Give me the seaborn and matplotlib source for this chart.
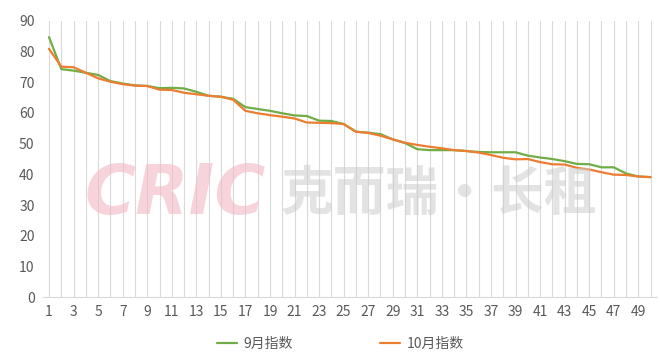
import numpy as np
import pandas as pd
import seaborn as sns
import matplotlib.pyplot as plt

# rank positions 1..50
ranks = list(range(1, 51))

sep_index = [84.7, 74.3, 73.8, 73.1, 72.4, 70.4, 69.6, 69.0, 68.8, 68.1,
             68.2, 68.0, 66.9, 65.6, 65.3, 64.6, 61.9, 61.3, 60.7, 59.9,
             59.2, 59.0, 57.5, 57.4, 56.4, 53.9, 53.6, 53.1, 51.4, 50.2,
             48.2, 47.9, 47.9, 47.9, 47.6, 47.3, 47.2, 47.2, 47.2, 46.1,
             45.5, 45.0, 44.3, 43.4, 43.3, 42.3, 42.3, 40.3, 39.3, 39.1]

oct_index = [80.9, 75.1, 74.9, 73.1, 71.3, 70.2, 69.4, 68.9, 68.8, 67.6,
             67.5, 66.6, 66.1, 65.6, 65.3, 64.3, 60.7, 59.9, 59.3, 58.8,
             58.2, 56.9, 56.8, 56.7, 56.4, 53.9, 53.5, 52.6, 51.4, 50.3,
             49.6, 49.0, 48.5, 47.9, 47.6, 47.1, 46.3, 45.4, 44.9, 45.0,
             44.0, 43.3, 43.2, 42.1, 41.6, 40.7, 39.9, 39.8, 39.3, 39.1]

series_names = ["9月指数", "10月指数"]
palette = {"9月指数": "#70AD47", "10月指数": "#ED7D31"}

df = pd.DataFrame({
    "rank": ranks * 2,
    "value": sep_index + oct_index,
    "series": [series_names[0]] * len(ranks) + [series_names[1]] * len(ranks),
})

sns.set_style("white")
plt.rcParams['font.family'] = ['Noto Sans CJK SC', 'DejaVu Sans']

fig = plt.figure(figsize=(6.6, 3.61), dpi=100)
ax = fig.add_axes([0.065, 0.177, 0.930, 0.765])

# watermark
fig.text(0.265, 0.462, "CRIC", fontsize=50, fontweight="bold", fontstyle="italic",
         family="DejaVu Sans", color="#f2b8c4", alpha=0.6, ha="center", va="center", zorder=0)
fig.text(0.665, 0.462, "克而瑞·长租", fontsize=38, fontweight="bold",
         color="#cccccc", alpha=0.55, ha="center", va="center", zorder=0)

ax.patch.set_alpha(0)
for x in ranks:
    ax.axvline(x, color="#d9d9d9", lw=0.8, zorder=0)

sns.lineplot(data=df, x="rank", y="value", hue="series", palette=palette,
             linewidth=1.6, ax=ax, legend=True)

ax.set_xlim(0.5, 50.5)
ax.set_ylim(0, 90)
ax.set_yticks(range(0, 91, 10))
ax.set_xticks(ranks[::2])
ax.set_xlabel("")
ax.set_ylabel("")
ax.tick_params(axis="both", length=0, labelsize=10, labelcolor="#595959", pad=6)

for side in ["top", "right", "left"]:
    ax.spines[side].set_visible(False)
ax.spines["bottom"].set_color("#d9d9d9")

handles, labels = ax.get_legend_handles_labels()
ax.legend(handles, labels, loc="center", bbox_to_anchor=(0.485, -0.17), ncol=2,
          frameon=False, fontsize=10, labelcolor="#595959", columnspacing=6.3,
          handlelength=1.4, handletextpad=0.5)

fig.savefig("out.png", dpi=100)
plt.close()
